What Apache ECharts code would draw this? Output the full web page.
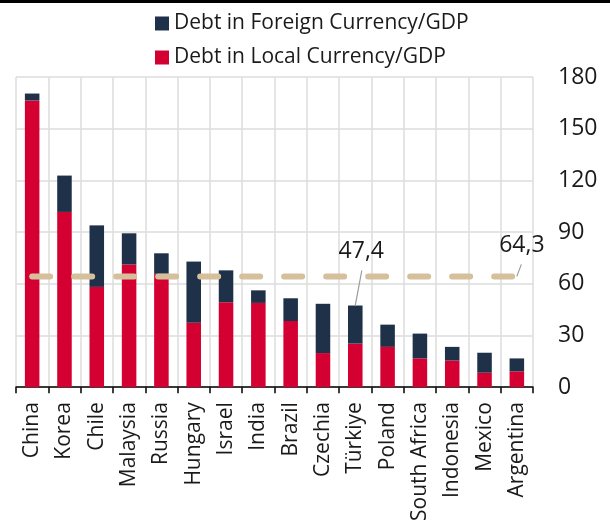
<!DOCTYPE html>
<html>
<head>
<meta charset="utf-8">
<script src="https://cdn.jsdelivr.net/npm/echarts@6/dist/echarts.min.js"></script>
<style>
html,body{margin:0;padding:0;background:#fff;}
#chart{width:610px;height:524px;}
</style>
</head>
<body>
<div id="chart"></div>
<script>
var categories = ['China','Korea','Chile','Malaysia','Russia','Hungary','Israel','India','Brazil','Czechia','Türkiye','Poland','South Africa','Indonesia','Mexico','Argentina'];
var localDebt = [166.4,101.7,58.2,71.2,65.8,37.4,49.3,48.9,38.4,19.8,25.3,23.4,16.7,15.5,8.4,9.2];
var foreignDebt = [4.0,21.1,35.7,18.1,11.9,35.5,18.5,7.3,13.2,28.6,22.1,12.9,14.4,7.9,11.6,7.5];
var averageValue = 64.3;
var averageLine = [64.3,64.3,64.3,64.3,64.3,64.3,64.3,64.3,64.3,64.3,64.3,64.3,64.3,64.3,64.3,64.3];
var highlightCategory = 'Türkiye';
var highlightValue = 47.4;
var yTicks = [0,30,60,90,120,150,180];
var seriesNames = ['Debt in Foreign Currency/GDP','Debt in Local Currency/GDP'];

var FONT = 'Open Sans';
var chart = echarts.init(document.getElementById('chart'), null, {renderer:'canvas'});
var option = {
  animation: false,
  backgroundColor: '#ffffff',
  textStyle: {fontFamily: FONT},
  legend: {
    orient: 'vertical',
    left: 150,
    top: 8,
    itemWidth: 14,
    itemHeight: 14,
    itemGap: 13,
    icon: 'rect',
    data: seriesNames,
    textStyle: {fontFamily: FONT, fontSize: 21, color: '#1a1a1a'}
  },
  grid: {left: 16, right: 77, top: 77, bottom: 134, containLabel: false},
  xAxis: {
    type: 'category',
    data: categories,
    boundaryGap: true,
    axisLine: {show: true, lineStyle: {color: '#000', width: 1.5}},
    axisTick: {show: true, length: 6, lineStyle: {color: '#000', width: 1.5}},
    axisLabel: {rotate: 90, fontSize: 21, fontFamily: FONT, color: '#1a1a1a', margin: 15, interval: 0},
    splitLine: {show: true, interval: 0, lineStyle: {color: '#dcdcdc', width: 1.5}}
  },
  yAxis: {
    type: 'value',
    position: 'right',
    min: yTicks[0],
    max: yTicks[yTicks.length-1],
    interval: 30,
    axisLine: {show: false},
    axisTick: {show: false},
    axisLabel: {fontSize: 23, fontFamily: FONT, color: '#1a1a1a', margin: 25, align: 'left'},
    splitLine: {show: true, lineStyle: {color: '#dcdcdc', width: 1.5}}
  },
  series: [
    {
      name: seriesNames[1],
      type: 'bar',
      stack: 'debt',
      barWidth: '45%',
      itemStyle: {color: '#d50032'},
      data: localDebt
    },
    {
      name: seriesNames[0],
      type: 'bar',
      stack: 'debt',
      barWidth: '45%',
      itemStyle: {color: '#1e3148'},
      data: foreignDebt
    },
    {
      name: 'Average',
      type: 'line',
      symbol: 'none',
      silent: true,
      lineStyle: {color: '#d6c09b', width: 6, type: [18,24], cap: 'round'},
      data: averageLine,
      z: 5
    }
  ]
};
chart.setOption(option);

function fmt(v){ return v.toFixed(1).replace('.', ','); }
var p1 = chart.convertToPixel({gridIndex:0}, [highlightCategory, highlightValue]);
var p2 = chart.convertToPixel({gridIndex:0}, [categories[categories.length-1], averageValue]);
chart.setOption({
  graphic: [
    {type:'rect', left:0, top:0, shape:{x:0,y:0,width:610,height:3}, style:{fill:'#000'}},
    {type:'line', shape:{x1:p1[0], y1:p1[1], x2:p1[0]+6.5, y2:p1[1]-35}, style:{stroke:'#9a9a9a', lineWidth:1.2}, z:10},
    {type:'text', x:p1[0]+6, y:p1[1]-54, style:{text:fmt(highlightValue), font:'23px "Open Sans"', fill:'#1a1a1a', align:'center', verticalAlign:'middle'}, z:10},
    {type:'line', shape:{x1:p2[0], y1:p2[1], x2:p2[0]+4.5, y2:p2[1]-12}, style:{stroke:'#9a9a9a', lineWidth:1.2}, z:10},
    {type:'text', x:p2[0]+5, y:p2[1]-31, style:{text:fmt(averageValue), font:'23px "Open Sans"', fill:'#1a1a1a', align:'center', verticalAlign:'middle'}, z:10}
  ]
});
</script>
</body>
</html>
